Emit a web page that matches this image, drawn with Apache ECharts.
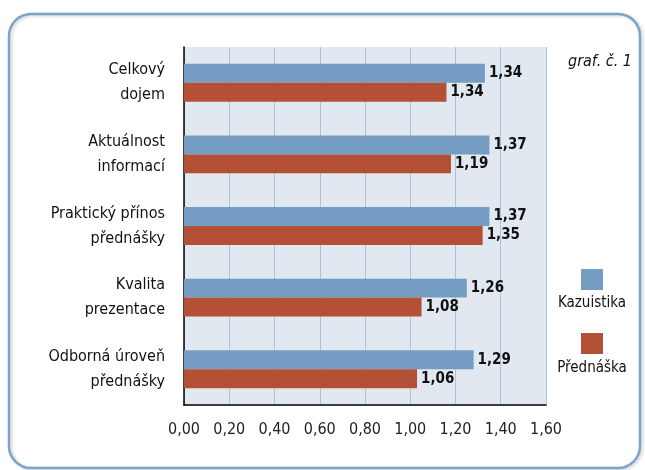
<!DOCTYPE html>
<html>
<head>
<meta charset="utf-8">
<script src="https://cdn.jsdelivr.net/npm/echarts@6/dist/echarts.min.js"></script>
<style>html,body{margin:0;padding:0;background:#fff;}#c{width:645px;height:470px;}</style>
</head>
<body>
<div id="c"></div>
<script>
// Data
const categories = ["Celkový\ndojem", "Aktuálnost\ninformací", "Praktický přínos\npřednášky", "Kvalita\nprezentace", "Odborná úroveň\npřednášky"];
const seriesNames = ["Kazuistika", "Přednáška"];
// bar lengths as drawn in the reference
const kazuistika = [1.33, 1.35, 1.35, 1.25, 1.28];
const prednaska = [1.16, 1.18, 1.32, 1.05, 1.03];
// value labels as printed in the reference
const kazuistikaLabels = ["1,34", "1,37", "1,37", "1,26", "1,29"];
const prednaskaLabels = ["1,34", "1,19", "1,35", "1,08", "1,06"];
const xTicks = { min: 0, max: 1.6, interval: 0.2 };
const chartNote = "graf. č. 1";

const cond = "'DejaVu Sans Condensed', 'Liberation Sans Narrow', sans-serif";
const colors = ["#759cc2", "#b35036"];

const chart = echarts.init(document.getElementById('c'), null, { renderer: 'canvas' });
function mkSeries(name, values, labels, color) {
  return {
    name: name,
    type: 'bar',
    data: values,
    barGap: '0%',
    barCategoryGap: '47%',
    itemStyle: { color: color },
    label: {
      show: true,
      position: 'right',
      distance: 4,
      color: '#111',
      fontFamily: cond,
      fontWeight: 'bold',
      fontSize: 15,
      formatter: p => labels[p.dataIndex]
    },
    emphasis: { disabled: true },
    animation: false
  };
}
chart.setOption({
  animation: false,
  grid: {
    left: 184, right: 99, top: 47, bottom: 65,
    show: true, backgroundColor: '#e2e8f0', borderWidth: 0
  },
  xAxis: {
    type: 'value',
    min: xTicks.min, max: xTicks.max, interval: xTicks.interval,
    axisLine: { show: true, lineStyle: { color: '#000', width: 1.5 } },
    axisTick: { show: false },
    splitLine: { show: true, lineStyle: { color: '#a9c3dc', width: 1 } },
    axisLabel: {
      margin: 17, color: '#222', fontFamily: cond, fontSize: 16,
      formatter: v => v.toFixed(2).replace('.', ',')
    }
  },
  yAxis: {
    type: 'category',
    data: categories,
    inverse: true,
    axisLine: { show: true, lineStyle: { color: '#000', width: 1.5 } },
    axisTick: { show: false },
    splitLine: { show: false },
    axisLabel: {
      margin: 19, color: '#111', fontFamily: cond, fontSize: 16,
      lineHeight: 25, align: 'right'
    }
  },
  series: [
    mkSeries(seriesNames[0], kazuistika, kazuistikaLabels, colors[0]),
    mkSeries(seriesNames[1], prednaska, prednaskaLabels, colors[1])
  ],
  graphic: [
    {
      type: 'rect', silent: true, z: -1,
      shape: { x: 9, y: 14, width: 631, height: 454, r: 22 },
      style: { fill: 'none', stroke: '#7ea3cb', lineWidth: 2.5,
               shadowColor: 'rgba(0,0,0,0.18)', shadowBlur: 3, shadowOffsetX: 2, shadowOffsetY: 1 }
    },
    {
      type: 'text', x: 600, y: 62,
      style: { text: chartNote, font: "italic 16px 'DejaVu Sans Condensed', sans-serif", fill: '#111', align: 'center', verticalAlign: 'middle' }
    },
    { type: 'rect', shape: { x: 581, y: 269, width: 22, height: 21 }, style: { fill: colors[0] } },
    { type: 'text', x: 592, y: 303, style: { text: seriesNames[0], font: "15px 'DejaVu Sans Condensed', sans-serif", fill: '#111', align: 'center', verticalAlign: 'middle' } },
    { type: 'rect', shape: { x: 581, y: 333, width: 22, height: 21 }, style: { fill: colors[1] } },
    { type: 'text', x: 592, y: 368, style: { text: seriesNames[1], font: "15px 'DejaVu Sans Condensed', sans-serif", fill: '#111', align: 'center', verticalAlign: 'middle' } }
  ]
});
</script>
</body>
</html>
